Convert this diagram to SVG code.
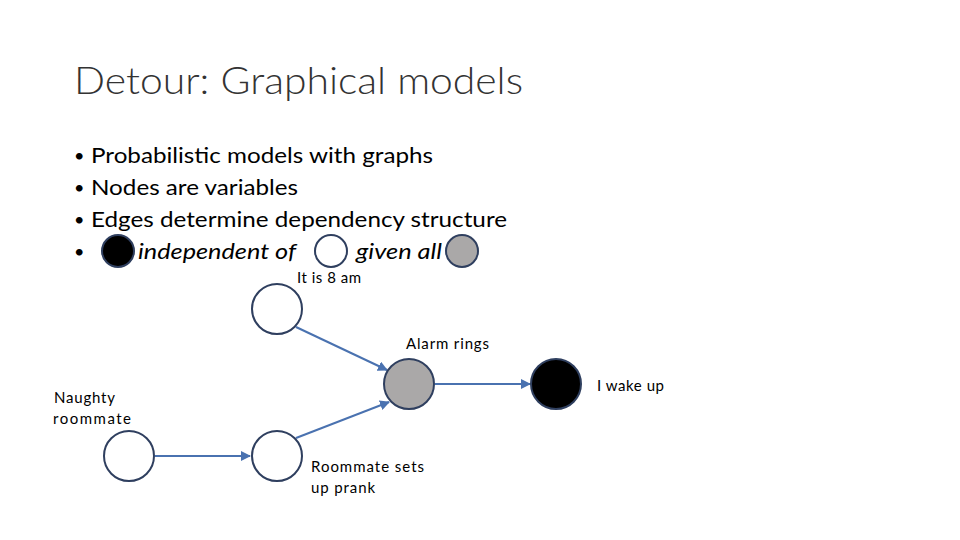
<svg xmlns="http://www.w3.org/2000/svg" width="960" height="540" viewBox="0 0 960 540">
<defs>
<style>
text{font-family:Lato,"Liberation Sans",sans-serif;fill:#000}
.t{font-size:38px;fill:#333;font-weight:300}
.b{font-size:22px}
.d{font-size:18px}
.l{font-size:15px}
.n{stroke:#2f3f5f;stroke-width:2}
.e{stroke:#4a72b0;stroke-width:2;fill:none;marker-end:url(#a)}
</style>
<marker id="a" viewBox="0 0 10 10" refX="9" refY="5" markerWidth="5" markerHeight="5" orient="auto"><path d="M0,0L10,5L0,10z" fill="#4a72b0"/></marker>
</defs>
<rect width="960" height="540" fill="#fff"/>
<text class="t" x="74" y="94" textLength="449" lengthAdjust="spacingAndGlyphs">Detour: Graphical models</text>
<g class="b">
<text class="d" x="74" y="162">•</text><text x="91" y="163" textLength="342" lengthAdjust="spacingAndGlyphs">Probabilistic models with graphs</text>
<text class="d" x="74" y="194">•</text><text x="91" y="195" textLength="207" lengthAdjust="spacingAndGlyphs">Nodes are variables</text>
<text class="d" x="74" y="226">•</text><text x="91" y="227" textLength="416" lengthAdjust="spacingAndGlyphs">Edges determine dependency structure</text>
<text class="d" x="74" y="258">•</text>
<text x="138" y="259" font-style="italic" textLength="158" lengthAdjust="spacingAndGlyphs">independent of</text>
<text x="356" y="259" font-style="italic" textLength="86" lengthAdjust="spacingAndGlyphs">given all</text>
</g>
<circle cx="118" cy="251" r="16" fill="#000" class="n"/>
<circle cx="331" cy="251" r="16" fill="#fff" class="n"/>
<circle cx="462" cy="251" r="16" fill="#aaa8a8" class="n"/>
<g id="connectors">
<path class="e" d="M296,327L387,370"/>
<path class="e" d="M296,438L389,402"/>
<path class="e" d="M435,384L530,384"/>
<path class="e" d="M155,456L250,456"/>
</g>
<g id="n8am"><circle cx="277" cy="309" r="25" fill="#fff" class="n"/><text class="l" x="297" y="283" textLength="64">It is 8 am</text></g>
<g id="alarm"><circle cx="409" cy="384" r="25" fill="#aaa8a8" class="n"/><text class="l" x="406" y="349" textLength="83">Alarm rings</text></g>
<g id="wake"><circle cx="556" cy="384" r="25" fill="#000" class="n"/><text class="l" x="597" y="391" textLength="67">I wake up</text></g>
<g id="prank"><circle cx="277" cy="456" r="25" fill="#fff" class="n"/><text class="l" x="311" y="472" textLength="113">Roommate sets</text><text class="l" x="311" y="493" textLength="64">up prank</text></g>
<g id="naughty"><circle cx="129" cy="456" r="25" fill="#fff" class="n"/><text class="l" x="54" y="403" textLength="61">Naughty</text><text class="l" x="53" y="424" textLength="78">roommate</text></g>
</svg>
